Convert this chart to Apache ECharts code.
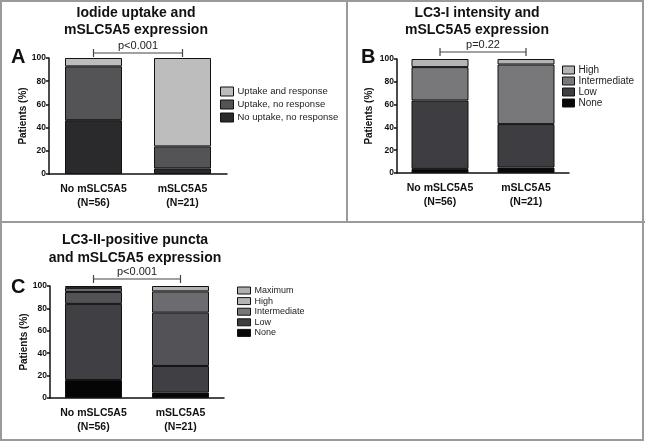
<!DOCTYPE html>
<html>
<head>
<meta charset="utf-8">
<script src="https://cdn.jsdelivr.net/npm/echarts@6/dist/echarts.min.js"></script>
<style>html,body{margin:0;padding:0;background:#fff}#c{width:645px;height:442px}</style>
</head>
<body>
<div id="c"></div>
<script>
// ---- data ----
const categories = ['No mSLC5A5', 'mSLC5A5'];
const nLabels = ['(N=56)', '(N=21)'];
const pValues = ['p<0.001', 'p=0.22', 'p<0.001'];
const panelLetters = ['A', 'B', 'C'];
const panelTitles = ['Iodide uptake and\nmSLC5A5 expression', 'LC3-I intensity and\nmSLC5A5 expression', 'LC3-II-positive puncta\nand mSLC5A5 expression'];
const yAxisName = 'Patients (%)';
// Panel A
const aNames = ['No uptake, no response', 'Uptake, no response', 'Uptake and response'];
const aNoUptake = [46.4, 4.8];
const aUptakeNoResp = [46.4, 19.0];
const aUptakeResp = [7.2, 76.2];
// Panel B
const bNames = ['None', 'Low', 'Intermediate', 'High'];
const bNone = [3.6, 4.8];
const bLow = [60.0, 38.1];
const bIntermediate = [29.3, 52.3];
const bHigh = [7.1, 4.8];
// Panel C
const cNames = ['None', 'Low', 'Intermediate', 'High', 'Maximum'];
const cNone = [16.1, 4.8];
const cLow = [67.9, 23.8];
const cIntermediate = [10.7, 47.6];
const cHigh = [3.6, 19.0];
const cMaximum = [1.7, 4.8];

const aData = [aNoUptake, aUptakeNoResp, aUptakeResp];
const bData = [bNone, bLow, bIntermediate, bHigh];
const cData = [cNone, cLow, cIntermediate, cHigh, cMaximum];
const aColors = ['#2a2a2c', '#545456', '#bdbdbd'];
const bColors = ['#080808', '#3e3e42', '#78787a', '#b4b4b4'];
const cColors = ['#050505', '#404044', '#535357', '#6c6c70', '#b0b0b0'];

const FONT = '"Liberation Sans", Arial, sans-serif';
const chart = echarts.init(document.getElementById('c'), null, {renderer: 'canvas'});

const grids = [
  {left: 49, top: 58, width: 178, height: 116},
  {left: 397, top: 59, width: 172, height: 114},
  {left: 50, top: 286, width: 174, height: 112}
];
const nameGaps = [18, 23, 18];

function xAxis(i) {
  return {
    type: 'category', gridIndex: i, data: categories,
    axisLine: {lineStyle: {color: '#111', width: 1.5}},
    axisTick: {alignWithLabel: true, length: 4, lineStyle: {color: '#111', width: 1.5}},
    axisLabel: {
      interval: 0, hideOverlap: false,
      margin: 8, fontFamily: FONT, fontWeight: 'bold', fontSize: 10.5, color: '#111', lineHeight: 14,
      formatter: (v, idx) => v + '\n' + nLabels[idx]
    }
  };
}
function yAxis(i) {
  return {
    type: 'value', gridIndex: i, min: 0, max: 100, interval: 20,
    name: yAxisName, nameLocation: 'middle', nameGap: nameGaps[i],
    nameTextStyle: {fontFamily: FONT, fontWeight: 'bold', fontSize: 10, color: '#111'},
    axisLine: {show: true, lineStyle: {color: '#111', width: 1.5}},
    axisTick: {show: true, length: 3, lineStyle: {color: '#111', width: 1.5}},
    splitLine: {show: false},
    axisLabel: {margin: 3, fontFamily: FONT, fontWeight: 'bold', fontSize: 8.5, color: '#111'}
  };
}
const series = [];
function addSeries(i, names, data, colors) {
  names.forEach((n, k) => {
    series.push({
      type: 'bar', name: n, stack: 'p' + i, xAxisIndex: i, yAxisIndex: i,
      data: data[k], barWidth: 57,
      itemStyle: {color: colors[k], borderColor: '#111', borderWidth: 1},
      emphasis: {disabled: true}
    });
  });
}
addSeries(0, aNames, aData, aColors);
addSeries(1, bNames, bData, bColors);
addSeries(2, cNames, cData, cColors);

function legend(names, left, top, fs, lh, gap, iw, ih) {
  return {
    orient: 'vertical', left: left, top: top, data: names.slice().reverse(),
    itemWidth: iw, itemHeight: ih, itemGap: gap, icon: 'rect', padding: 0,
    selectedMode: false,
    itemStyle: {borderColor: '#111', borderWidth: 1},
    textStyle: {fontFamily: FONT, fontSize: fs, lineHeight: lh, color: '#222', padding: [0, 0, 0, -1]}
  };
}

const titleStyle = {fontFamily: FONT, fontWeight: 'bold', fontSize: 14, lineHeight: 17, color: '#111'};
chart.setOption({
  animation: false,
  grid: grids,
  xAxis: [xAxis(0), xAxis(1), xAxis(2)],
  yAxis: [yAxis(0), yAxis(1), yAxis(2)],
  title: [
    {text: panelTitles[0], left: 131, top: 0, textAlign: 'center', textStyle: titleStyle},
    {text: panelTitles[1], left: 472, top: 0, textAlign: 'center', textStyle: titleStyle},
    {text: panelTitles[2], left: 130, top: 226, textAlign: 'center', textStyle: Object.assign({}, titleStyle, {lineHeight: 18})},
    {text: panelLetters[0], left: 6, top: 42, textStyle: {fontFamily: FONT, fontWeight: 'bold', fontSize: 20, color: '#111'}},
    {text: panelLetters[1], left: 356, top: 42, textStyle: {fontFamily: FONT, fontWeight: 'bold', fontSize: 20, color: '#111'}},
    {text: panelLetters[2], left: 6, top: 272, textStyle: {fontFamily: FONT, fontWeight: 'bold', fontSize: 20, color: '#111'}}
  ],
  legend: [
    legend(aNames, 220, 86, 9.5, 11, 2, 13, 9),
    legend(bNames, 562, 65, 10, 10, 1, 12, 8),
    legend(cNames, 237, 286, 9, 9, 1.6, 13, 7)
  ],
  series: series
});

// brackets computed from axes
const graphics = [
  {type: 'rect', shape: {x: 1, y: 1, width: 642, height: 439}, style: {fill: null, stroke: '#9a9a9a', lineWidth: 2}, silent: true},
  {type: 'line', shape: {x1: 347, y1: 0, x2: 347, y2: 222}, style: {stroke: '#9a9a9a', lineWidth: 2}, silent: true},
  {type: 'line', shape: {x1: 0, y1: 222, x2: 645, y2: 222}, style: {stroke: '#9a9a9a', lineWidth: 2}, silent: true}
];
const bracketOffsets = [5, 7, 7];
for (let i = 0; i < 3; i++) {
  const x1 = chart.convertToPixel({xAxisIndex: i}, categories[0]);
  const x2 = chart.convertToPixel({xAxisIndex: i}, categories[1]);
  const y = chart.convertToPixel({yAxisIndex: i}, 100) - bracketOffsets[i];
  graphics.push({type: 'polyline', shape: {points: [[x1, y - 4], [x1, y + 4]]}, style: {stroke: '#444', lineWidth: 1.2, fill: null}, silent: true});
  graphics.push({type: 'polyline', shape: {points: [[x2, y - 4], [x2, y + 4]]}, style: {stroke: '#444', lineWidth: 1.2, fill: null}, silent: true});
  graphics.push({type: 'line', shape: {x1: x1, y1: y, x2: x2, y2: y}, style: {stroke: '#444', lineWidth: 1.2}, silent: true});
  graphics.push({type: 'text', x: (x1 + x2) / 2, y: y - 2, style: {text: pValues[i], fontFamily: FONT, fontSize: 11, fill: '#222', textAlign: 'center', textVerticalAlign: 'bottom'}, silent: true});
}
chart.setOption({graphic: graphics});
</script>
</body>
</html>
